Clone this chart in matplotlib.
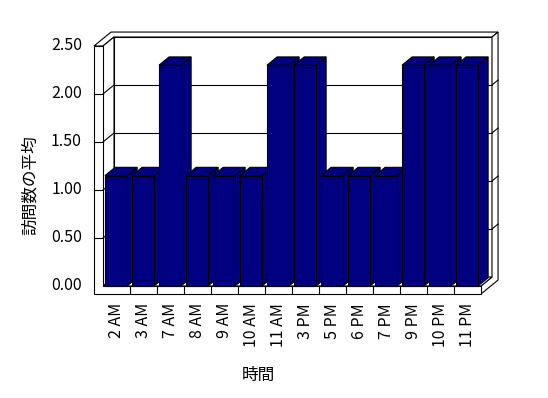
import numpy as np
import matplotlib.pyplot as plt
from matplotlib.patches import Polygon

plt.rcParams['font.family'] = ['Noto Sans CJK JP', 'DejaVu Sans']

# データ
hours = ['2 AM', '3 AM', '7 AM', '8 AM', '9 AM', '10 AM', '11 AM',
         '3 PM', '5 PM', '6 PM', '7 PM', '9 PM', '10 PM', '11 PM']
visits = [1.15, 1.15, 2.30, 1.15, 1.15, 1.15, 2.30,
          2.30, 1.15, 1.15, 1.15, 2.30, 2.30, 2.30]
yticks = [0.0, 0.5, 1.0, 1.5, 2.0, 2.5]

bar_color = '#000080'
n = len(hours)
ymax = yticks[-1]

# 3D風の奥行き (データ単位)
ddx, ddy = 11 / 27, 9 / 96
tbk = 0.55          # 奥の壁の厚み (奥行き比)
lw_wall = 9 / 27    # 左の壁の厚み
ft = 8 / 96         # 床の厚み


def P(x, y, d):
    return (x + d * ddx, y + d * ddy)


def face(ax, pts, fc='white', z=1):
    ax.add_patch(Polygon([P(*p) for p in pts], closed=True, fc=fc,
                         ec='black', lw=0.8, zorder=z, joinstyle='miter'))


fig = plt.figure(figsize=(5.48, 3.98), dpi=100)
ax = fig.add_axes([0, 0, 1, 1])
ax.set_xlim(-103 / 27, (548 - 103) / 27)
ax.set_ylim((286 - 398) / 96, 286 / 96)
ax.axis('off')

# 奥の壁
face(ax, [(0, 0, 1), (n, 0, 1), (n, ymax, 1), (0, ymax, 1)])
# 上面 (左の壁 + 奥の壁)
face(ax, [(-lw_wall, ymax, 0), (0, ymax, 0), (0, ymax, 1), (n, ymax, 1),
          (n, ymax, 1 + tbk), (-lw_wall, ymax, 1 + tbk)])
# 右側面 (奥の壁 + 床)
face(ax, [(n, -ft, 0), (n, 0, 0), (n, 0, 1), (n, ymax, 1),
          (n, ymax, 1 + tbk), (n, -ft, 1 + tbk)])
# 左の壁の内側
face(ax, [(0, 0, 0), (0, 0, 1), (0, ymax, 1), (0, ymax, 0)])
# 床の上面
face(ax, [(0, 0, 0), (n, 0, 0), (n, 0, 1), (0, 0, 1)])
# 前面 (左の壁 + 床)
face(ax, [(-lw_wall, -ft, 0), (n, -ft, 0), (n, 0, 0), (0, 0, 0),
          (0, ymax, 0), (-lw_wall, ymax, 0)])

# グリッド線
for v in yticks:
    if 0 < v < ymax:
        ax.plot(*zip(P(0, v, 1), P(n, v, 1)), color='black', lw=0.8, zorder=2)
        ax.plot(*zip(P(0, v, 0), P(0, v, 1)), color='black', lw=0.8, zorder=2)
        ax.plot(*zip(P(n, v, 1), P(n, v, 1 + tbk)), color='black', lw=0.8, zorder=2)
    if 0 < v < ymax:
        ax.plot(*zip(P(-lw_wall, v, 0), P(0, v, 0)), color='black', lw=0.8, zorder=2)

# 床の目盛り
for i in range(1, n):
    ax.plot(*zip(P(i, -ft, 0), P(i, 0, 0)), color='black', lw=0.8, zorder=2)

# 棒
x = np.arange(n)
bw = 22 / 27
off = 2 / 27
bd = 0.92
bars = ax.bar(x + off, visits, width=bw, align='edge', color=bar_color,
              edgecolor='black', lw=0.8, zorder=3)
z = 3
for rect, v in zip(bars, visits):
    x0 = rect.get_x()
    x1 = x0 + rect.get_width()
    face(ax, [(x1, 0, 0), (x1, 0, bd), (x1, v, bd), (x1, v, 0)], fc=bar_color, z=z)
    face(ax, [(x0, v, 0), (x1, v, 0), (x1, v, bd), (x0, v, bd)], fc=bar_color, z=z)
    rect.set_zorder(z + 0.5)
    z += 1

# 目盛りラベル
for v in yticks:
    ax.text(-21 / 27, v, f'{v:.2f}', ha='right', va='center', fontsize=11.5)
for i, h in enumerate(hours):
    ax.text(i + 0.5, -17 / 96, h, rotation=90, ha='center', va='top', fontsize=11.5)

fig.text(258 / 548, 1 - 375 / 398, '時間', ha='center', va='center', fontsize=12)
fig.text(30 / 548, 1 - 185 / 398, '訪問数の平均', ha='center', va='center',
         rotation=90, fontsize=12)

fig.savefig('out.png', dpi=100)
